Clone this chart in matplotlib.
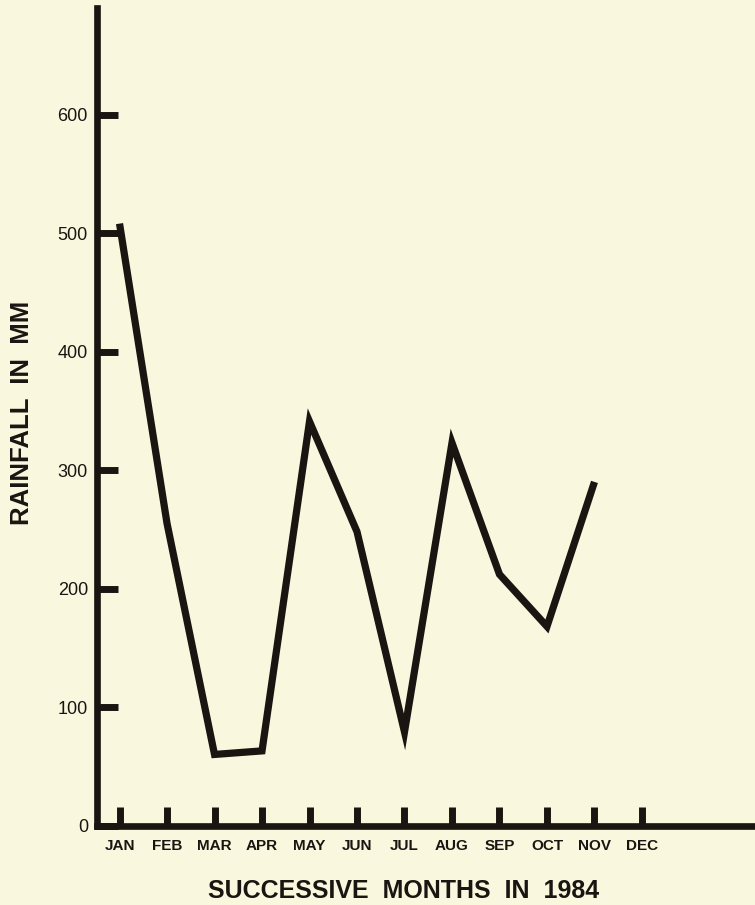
import matplotlib
matplotlib.use("Agg")
import matplotlib.pyplot as plt

# monthly rainfall 1984 (mm)
months = ["JAN", "FEB", "MAR", "APR", "MAY", "JUN", "JUL", "AUG", "SEP", "OCT", "NOV", "DEC"]
rain = [508, 255, 60, 63, 341, 248, 79, 323, 212, 168, 290]
yticks = [0, 100, 200, 300, 400, 500, 600]

bg = "#f9f8df"
ink = "#1a1511"

plt.rcParams["font.family"] = ["Liberation Sans", "DejaVu Sans"]

fig = plt.figure(figsize=(7.55, 9.05), dpi=100, facecolor=bg)
ax = fig.add_axes([0.1285, 0.0878, 1 - 0.1285, 0.9912 - 0.0878], facecolor=bg)

ax.plot(range(len(rain)), rain, color=ink, lw=5.2,
        solid_joinstyle="miter", solid_capstyle="butt")

ax.set_xlim(-0.474, 13.38)
ax.set_ylim(0, 690)

ax.set_xticks(range(len(months)))
ax.set_xticklabels(months, fontsize=11, fontweight="bold", color=ink)
ax.set_yticks(yticks)
ax.set_yticklabels([str(v) for v in yticks], fontsize=13, color=ink)

ax.tick_params(axis="x", direction="in", length=13.7, width=5, color=ink, pad=9.7)
ax.tick_params(axis="y", direction="in", length=15, width=5, color=ink, pad=6.5)

for s in ["top", "right"]:
    ax.spines[s].set_visible(False)
for s in ["left", "bottom"]:
    ax.spines[s].set_linewidth(4.8)
    ax.spines[s].set_color(ink)

fig.text(0.5344, 0.0077, "SUCCESSIVE  MONTHS  IN  1984", fontsize=18,
         fontweight="bold", color=ink, ha="center", va="baseline")
fig.text(0.029, 0.5436, "RAINFALL  IN  MM", fontsize=18.5, fontweight="bold",
         color=ink, rotation=90, ha="center", va="center")

fig.savefig("out.png", dpi=100, facecolor=bg)
